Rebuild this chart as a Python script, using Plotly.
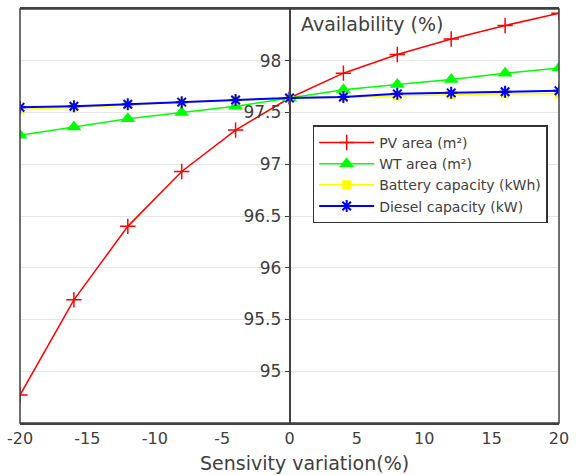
import plotly.graph_objects as go

x_vals = [-20, -16, -12, -8, -4, 0, 4, 8, 12, 16, 20]
pv_area = [94.77, 95.69, 96.40, 96.93, 97.33, 97.64, 97.88, 98.06, 98.21, 98.34, 98.46]
wt_area = [97.28, 97.36, 97.44, 97.50, 97.56, 97.64, 97.72, 97.77, 97.82, 97.88, 97.93]
battery = [97.53, 97.55, 97.57, 97.60, 97.62, 97.64, 97.65, 97.66, 97.67, 97.68, 97.68]
diesel = [97.55, 97.56, 97.58, 97.60, 97.62, 97.64, 97.65, 97.68, 97.69, 97.70, 97.71]

names = ["PV area (m²)", "WT area (m²)", "Battery capacity (kWh)", "Diesel capacity (kW)"]
x_ticks = [-20, -15, -10, -5, 0, 5, 10, 15, 20]
y_ticks = [95, 95.5, 96, 96.5, 97, 97.5, 98]
y_tick_text = ["95", "95.5", "96", "96.5", "97", "97.5", "98"]

FONT = "DejaVu Sans"
TXT = "#404040"

fig = go.Figure()
fig.add_trace(go.Scatter(x=x_vals, y=pv_area, name=names[0], mode="lines+markers",
                         line=dict(color="#FF0000", width=1.5),
                         marker=dict(symbol="cross-thin-open", size=11, color="#FF0000",
                                     line=dict(color="#FF0000", width=1.5))))
fig.add_trace(go.Scatter(x=x_vals, y=wt_area, name=names[1], mode="lines+markers",
                         line=dict(color="#00FF00", width=1.5),
                         marker=dict(symbol="triangle-up", size=13, color="#00FF00")))
fig.add_trace(go.Scatter(x=x_vals, y=battery, name=names[2], mode="lines+markers",
                         line=dict(color="#FFFF00", width=1.5),
                         marker=dict(symbol="square", size=9, color="#FFFF00")))
fig.add_trace(go.Scatter(x=x_vals, y=diesel, name=names[3], mode="lines+markers",
                         line=dict(color="#0000FF", width=2),
                         marker=dict(symbol="asterisk-open", size=10, color="#0000FF",
                                     line=dict(color="#0000FF", width=2))))

fig.update_layout(
    width=576, height=475,
    margin=dict(l=16, r=15, t=7, b=52),
    paper_bgcolor="white", plot_bgcolor="white",
    font=dict(family=FONT, color=TXT, size=16),
    xaxis=dict(range=[-20, 20], tickvals=x_ticks, ticktext=[str(v) for v in x_ticks],
               showgrid=False, zeroline=False, showline=True, mirror=True,
               linecolor="#404040", linewidth=1.5, ticks="",
               tickfont=dict(size=16)),
    yaxis=dict(range=[94.5, 98.5], tickvals=y_ticks, ticktext=y_tick_text,
               showgrid=True, gridcolor="#e6e6e6", gridwidth=1,
               zeroline=False, showline=True, linecolor="#404040", linewidth=1.5,
               anchor="free", position=0.5, ticks="outside", ticklen=4,
               tickcolor="#404040", tickfont=dict(size=17)),
    legend=dict(x=0.543, y=0.719, xanchor="left", yanchor="top",
                bgcolor="white", bordercolor="#333333", borderwidth=1.5,
                font=dict(size=14, color=TXT), tracegroupgap=0, itemwidth=55),
    showlegend=True,
)

fig.add_shape(type="rect", xref="paper", yref="paper", x0=0, x1=1, y0=0, y1=1,
              line=dict(color="#404040", width=1.5), layer="above")

fig.add_annotation(x=0.7, y=98.5, xref="x", yref="y", xanchor="left", yanchor="top",
                   yshift=-2, text="Availability (%)", showarrow=False,
                   font=dict(size=19, color=TXT, family=FONT))

fig.add_annotation(x=0.528, y=0, xref="paper", yref="paper", xanchor="center", yanchor="middle",
                   yshift=-40, text="Sensivity variation(%)", showarrow=False,
                   font=dict(size=19, color=TXT, family=FONT))

fig.write_html("out.html")
